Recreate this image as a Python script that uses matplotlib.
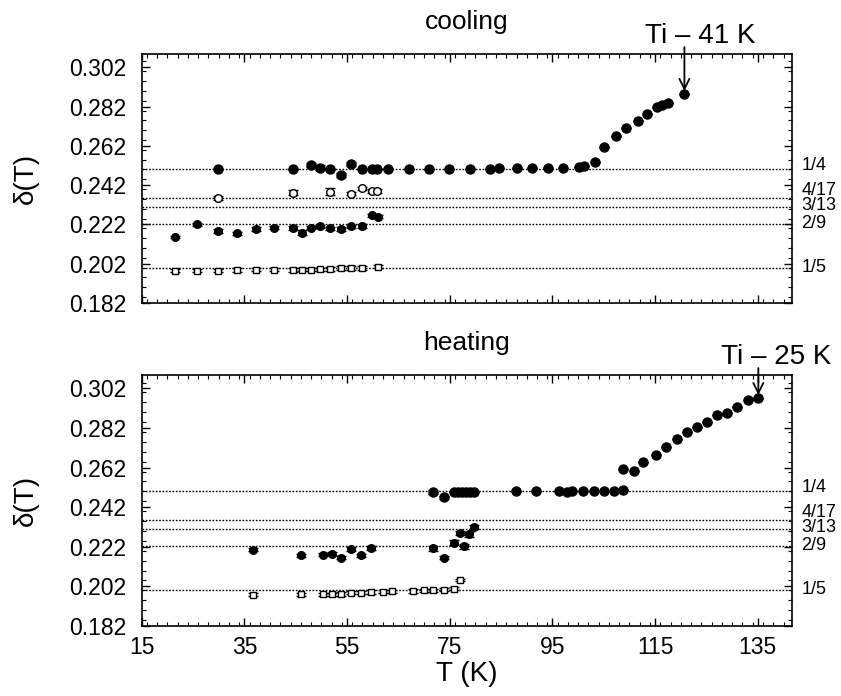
import matplotlib
matplotlib.use("Agg")
import matplotlib.pyplot as plt
from matplotlib.ticker import MultipleLocator

plt.rcParams['font.family'] = ['Liberation Sans', 'DejaVu Sans']

# commensurate fractions drawn as dotted reference lines
fractions = [1/4, 4/17, 3/13, 2/9, 1/5]
# labels on the right; 4/17 and 3/13 sit so close they share one text block
frac_labels = ['1/4', '4/17\n3/13', '2/9', '1/5']
frac_label_pos = [1/4 + 0.0018, (4/17 + 3/13) / 2 + 0.0024, 2/9 + 0.0004, 1/5 + 0.0002]

# ---- cooling ----
cool_a_T = [29.9, 44.4, 48.0, 49.7, 51.7, 53.8, 55.8, 58.0, 59.8, 60.8, 63.0, 67.1, 71.0,
            74.9, 79.0, 82.9, 84.5, 88.1, 91.0, 94.1, 97.1, 100.1, 101.2, 103.2, 105.1,
            107.4, 109.4, 111.6, 113.5, 115.3, 116.4, 117.6, 120.7]
cool_a_d = [0.2504, 0.2504, 0.2523, 0.2509, 0.2504, 0.2471, 0.2527, 0.2504, 0.2504, 0.2504,
            0.2503, 0.2503, 0.2503, 0.2503, 0.2504, 0.2504, 0.2505, 0.2505, 0.2506, 0.2507,
            0.2508, 0.2512, 0.2515, 0.2536, 0.2616, 0.2669, 0.2711, 0.2749, 0.2782, 0.2817,
            0.2830, 0.2840, 0.2885]
cool_a_e = [0.0, 0.0, 0.0012, 0.0012, 0.0, 0.0009, 0.0011, 0.0, 0.0, 0.0,
            0.0, 0.0, 0.0, 0.0, 0.0, 0.0, 0.0, 0.0, 0.0, 0.0,
            0.0, 0.0, 0.0, 0.0, 0.0, 0.0, 0.0, 0.0, 0.0, 0.0, 0.0, 0.0, 0.0]

cool_b_T = [29.9, 44.4, 51.7, 55.8, 57.9, 59.8, 60.9]
cool_b_d = [0.2353, 0.2382, 0.2387, 0.2377, 0.2404, 0.2390, 0.2390]
cool_b_e = [0.0010, 0.0012, 0.0016, 0.0008, 0.0008, 0.0008, 0.0008]

cool_c_T = [21.5, 25.7, 29.9, 33.6, 37.3, 40.8, 44.4, 46.3, 48.0, 49.7, 51.7, 53.8, 55.8,
            58.0, 59.8, 61.0]
cool_c_d = [0.2157, 0.2220, 0.2186, 0.2174, 0.2198, 0.2203, 0.2200, 0.2178, 0.2203, 0.2210,
            0.2200, 0.2198, 0.2210, 0.2212, 0.2266, 0.2260]
cool_c_e = [0.0006, 0.0008, 0.0012, 0.0006, 0.0010, 0.0008, 0.0010, 0.0012, 0.0008, 0.0008,
            0.0008, 0.0010, 0.0008, 0.0008, 0.0008, 0.0008]

cool_d_T = [21.5, 25.7, 29.9, 33.6, 37.3, 40.8, 44.4, 46.2, 48.0, 49.7, 51.7, 53.8, 55.8,
            58.0, 61.0]
cool_d_d = [0.1985, 0.1985, 0.1985, 0.1988, 0.1989, 0.1989, 0.1988, 0.1989, 0.1990, 0.1991,
            0.1993, 0.1998, 0.1998, 0.1998, 0.2005]
cool_d_e = [0.0008] * 15

# ---- heating ----
heat_a_T = [71.8, 73.8, 75.8, 76.6, 77.4, 78.2, 79.0, 79.8, 87.9, 91.8, 96.2, 97.9, 98.8,
            100.9, 103.0, 105.0, 107.0, 108.8, 108.8, 110.8, 112.7, 115.2, 117.1, 119.2,
            121.2, 123.1, 125.1, 127.0, 129.0, 130.9, 133.1, 135.1]
heat_a_d = [0.2495, 0.2471, 0.2498, 0.2498, 0.2498, 0.2498, 0.2498, 0.2498, 0.2500, 0.2500,
            0.2500, 0.2499, 0.2500, 0.2500, 0.2500, 0.2501, 0.2502, 0.2509, 0.2613, 0.2605,
            0.2649, 0.2686, 0.2725, 0.2766, 0.2801, 0.2826, 0.2850, 0.2887, 0.2897, 0.2928,
            0.2962, 0.2972]
heat_a_e = [0.0010, 0.0008] + [0.0] * 30

heat_c_T = [36.7, 46.0, 50.3, 52.0, 53.8, 55.8, 57.7, 59.7, 71.8, 73.8, 75.8, 76.9, 77.7,
            78.8, 79.8]
heat_c_d = [0.2205, 0.2178, 0.2181, 0.2185, 0.2165, 0.2207, 0.2178, 0.2214, 0.2212, 0.2165,
            0.2241, 0.2291, 0.2222, 0.2283, 0.2320]
heat_c_e = [0.0008, 0.0008, 0.0008, 0.0008, 0.0008, 0.0010, 0.0008, 0.0008, 0.0014, 0.0008,
            0.0014, 0.0010, 0.0012, 0.0014, 0.0010]

heat_d_T = [36.7, 46.0, 50.3, 52.0, 53.8, 55.8, 57.7, 59.7, 61.9, 63.8, 67.9, 69.9, 71.8,
            73.8, 75.8, 76.9]
heat_d_d = [0.1978, 0.1980, 0.1980, 0.1981, 0.1982, 0.1988, 0.1988, 0.1992, 0.1993, 0.1995,
            0.1997, 0.2000, 0.2000, 0.2003, 0.2008, 0.2051]
heat_d_e = [0.0008] * 15 + [0.0006]

xlim = (15, 141.6)
ylim = (0.182, 0.3088)

fig = plt.figure(figsize=(8.41, 6.96), dpi=100)
ax1 = fig.add_axes([0.1685, 0.5647, 0.7729, 0.3578])
ax2 = fig.add_axes([0.1685, 0.1006, 0.7729, 0.3606])


def style(ax, show_x):
    ax.set_xlim(*xlim)
    ax.set_ylim(*ylim)
    ax.xaxis.set_minor_locator(MultipleLocator(2))
    ax.yaxis.set_minor_locator(MultipleLocator(0.005))
    ax.set_yticks([0.182, 0.202, 0.222, 0.242, 0.262, 0.282, 0.302])
    ax.set_yticklabels(['0.182', '0.202', '0.222', '0.242', '0.262', '0.282', '0.302'])
    ax.set_xticks([15, 35, 55, 75, 95, 115, 135])
    ax.tick_params(which='both', direction='in', top=True, right=True, labelsize=16.5)
    ax.tick_params(axis='y', which='major', pad=11)
    ax.tick_params(axis='x', which='major', pad=7)
    ax.tick_params(which='major', length=6, width=1)
    ax.tick_params(which='minor', length=3, width=0.8)
    if not show_x:
        ax.set_xticklabels([])
    for s in ax.spines.values():
        s.set_linewidth(1.2)
    ax.set_ylabel('δ(T)', fontsize=20, labelpad=22)
    for f in fractions:
        ax.axhline(f, color='black', ls=(0, (1.2, 1.2)), lw=1, zorder=1)
    for lab, y in zip(frac_labels, frac_label_pos):
        ax.text(1.015, y, lab, transform=ax.get_yaxis_transform(),
                fontsize=13, va='center', ha='left', linespacing=0.85)


def pts(ax, T, d, e, marker, filled, ms=6):
    ax.errorbar(T, d, yerr=e, fmt=marker, ms=ms, mec='black',
                mfc='black' if filled else 'white', mew=1, ecolor='black',
                elinewidth=1.2, capsize=3.5, capthick=1.8, zorder=3)


def mark_ti(ax, T, d, label, text_x, text_y):
    ax.annotate('', xy=(T, d + 0.0015), xytext=(T, ylim[1] + 0.0035),
                annotation_clip=False,
                arrowprops=dict(arrowstyle='->', color='black', lw=1.3,
                                shrinkA=0, shrinkB=0, mutation_scale=18))
    ax.text(text_x, text_y, label, fontsize=20, ha='center', va='bottom',
            clip_on=False)


style(ax1, False)
pts(ax1, cool_a_T, cool_a_d, cool_a_e, 'o', True, 6.5)
pts(ax1, cool_b_T, cool_b_d, cool_b_e, 'o', False, 5.5)
pts(ax1, cool_c_T, cool_c_d, cool_c_e, 'o', True, 5.5)
pts(ax1, cool_d_T, cool_d_d, cool_d_e, 's', False, 5)
ax1.set_title('cooling', fontsize=19, pad=18)
mark_ti(ax1, cool_a_T[-1], cool_a_d[-1], 'Ti – 41 K', cool_a_T[-1] + 3, 0.3115)

style(ax2, True)
pts(ax2, heat_a_T, heat_a_d, heat_a_e, 'o', True, 6.5)
pts(ax2, heat_c_T, heat_c_d, heat_c_e, 'o', True, 5.5)
pts(ax2, heat_d_T, heat_d_d, heat_d_e, 's', False, 5)
ax2.set_title('heating', fontsize=19, pad=18)
mark_ti(ax2, heat_a_T[-1], heat_a_d[-1], 'Ti – 25 K', heat_a_T[-1] + 3.5, 0.3115)
ax2.set_xlabel('T (K)', fontsize=20, labelpad=2)

fig.savefig('out.png', dpi=100)
